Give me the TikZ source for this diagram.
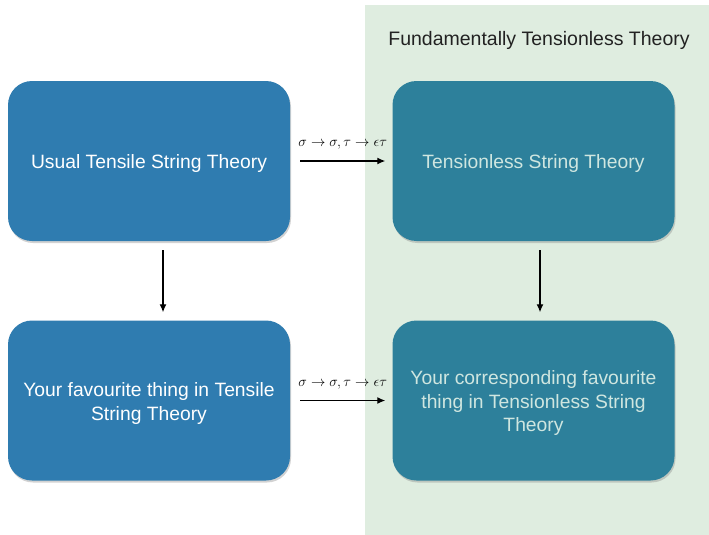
\documentclass[tikz,border=0pt]{standalone}
\usepackage{fontspec}
\setmainfont{Liberation Sans}
\usetikzlibrary{arrows.meta,shadows}
\definecolor{panelgreen}{HTML}{DFEDE0}
\definecolor{boxblue}{HTML}{2F7CB0}
\definecolor{boxteal}{HTML}{2D809B}
\definecolor{tealtext}{HTML}{CFE6E0}
\definecolor{titlegray}{HTML}{222222}
\tikzset{
  box/.style={rounded corners=24pt, minimum width=282pt, minimum height=160pt,
    drop shadow={shadow xshift=1pt, shadow yshift=-2pt, opacity=0.35}},
  boxtext/.style={align=center, font=\fontsize{19.3}{23.5}\selectfont, yshift=-3pt},
  leftbox/.style={box, fill=boxblue},
  rightbox/.style={box, fill=boxteal},
  lefttext/.style={boxtext, text=white},
  righttext/.style={boxtext, text=tealtext},
  conn/.style={-{Latex[length=8pt,width=7pt]}, line width=1.3pt},
  lbl/.style={font=\fontsize{14.5}{16}\selectfont, inner sep=0pt}
}
\begin{document}
\begin{tikzpicture}[x=1pt,y=-1pt]
\useasboundingbox (0,0) rectangle (709,535);
\fill[white] (0,0) rectangle (709,535);
\fill[panelgreen] (365,5) rectangle (709,535);
\node[font=\fontsize{19.5}{22}\selectfont, text=titlegray] (title) at (539,40) {Fundamentally Tensionless Theory};
\node[leftbox, label={[lefttext]center:Usual Tensile String Theory}] (a) at (149,161) {};
\node[leftbox, label={[lefttext]center:Your favourite thing in Tensile\\String Theory}] (b) at (149,400.5) {};
\node[rightbox, label={[righttext]center:Tensionless String Theory}] (c) at (533.5,161) {};
\node[rightbox, label={[righttext]center:Your corresponding favourite\\thing in Tensionless String\\Theory}] (d) at (533.5,400.5) {};
\draw[conn] ([xshift=10pt]a.east) -- ([xshift=-7pt]c.west) node[lbl, midway, above=11pt] (l1) {$\sigma\to\sigma,\tau\to\epsilon\tau$};
\draw[conn] ([xshift=10pt]b.east) -- ([xshift=-7pt]d.west) node[lbl, midway, above=11pt] (l2) {$\sigma\to\sigma,\tau\to\epsilon\tau$};
\draw[conn] ([xshift=14pt,yshift=-9pt]a.south) -- ([xshift=14pt,yshift=8pt]b.north);
\draw[conn] ([xshift=6.5pt,yshift=-9pt]c.south) -- ([xshift=6.5pt,yshift=8pt]d.north);
\end{tikzpicture}
\end{document}
